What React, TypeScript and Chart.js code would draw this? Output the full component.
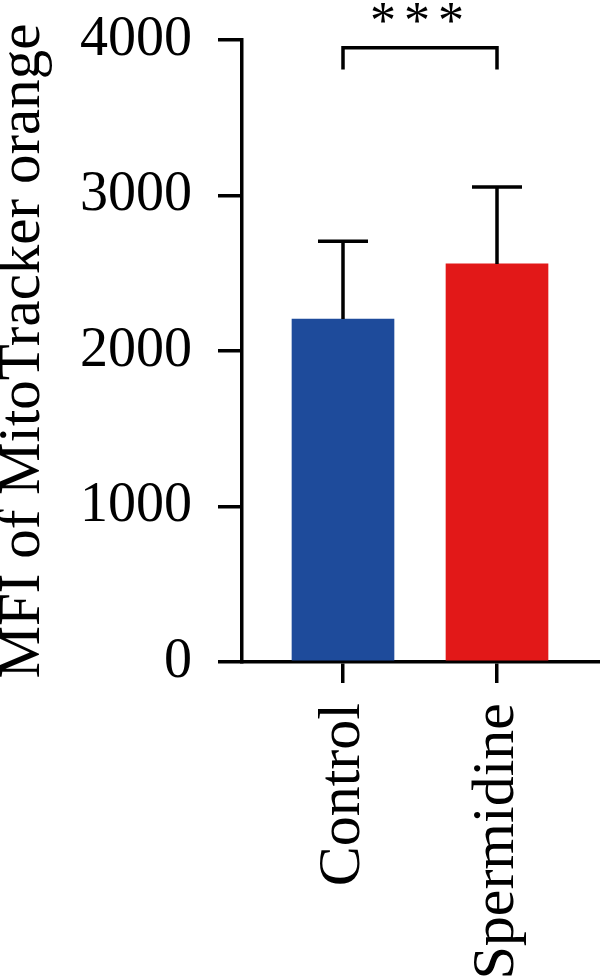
import React, { useEffect, useRef } from 'react';
import { Chart, registerables } from 'chart.js';

Chart.register(...registerables);

const categories = ['Control', 'Spermidine'];
const means = [2205, 2560];
const errors = [500, 495];
const barColors = ['#1E4B9B', '#E21818'];
const yTicks = [0, 1000, 2000, 3000, 4000];
const yTitle = 'MFI of MitoTracker orange';
const sigLabel = ['*', '*', '*'];
const sigBracket = [3950, 3810]; // top of bracket, bottom of its legs

const FONT = '"Liberation Serif", "Times New Roman", serif';

const errorBarPlugin = {
  id: 'errorBars',
  afterDatasetsDraw(chart: any) {
    const { ctx, scales } = chart;
    const x = scales.x;
    const y = scales.y;
    ctx.save();
    ctx.strokeStyle = '#000';
    ctx.lineWidth = 3.5;
    ctx.lineCap = 'butt';
    means.forEach((m, i) => {
      const px = x.getPixelForValue(i);
      const y0 = y.getPixelForValue(m);
      const y1 = y.getPixelForValue(m + errors[i]);
      ctx.beginPath();
      ctx.moveTo(px, y0);
      ctx.lineTo(px, y1);
      ctx.moveTo(px - 25, y1);
      ctx.lineTo(px + 25, y1);
      ctx.stroke();
    });
    const xl = x.getPixelForValue(0);
    const xr = x.getPixelForValue(1);
    const yb = y.getPixelForValue(sigBracket[0]);
    const yl = y.getPixelForValue(sigBracket[1]);
    ctx.beginPath();
    ctx.moveTo(xl, yl);
    ctx.lineTo(xl, yb);
    ctx.lineTo(xr, yb);
    ctx.lineTo(xr, yl);
    ctx.stroke();
    ctx.font = `52px ${FONT}`;
    ctx.textAlign = 'center';
    ctx.textBaseline = 'alphabetic';
    ctx.fillStyle = '#000';
    const cx = (xl + xr) / 2 - 3;
    sigLabel.forEach((s, i) => {
      ctx.fillText(s, cx + (i - 1) * 34, yb - 10);
    });
    ctx.restore();
  },
};

export default function App() {
  const ref = useRef<HTMLCanvasElement>(null);
  useEffect(() => {
    let chart: Chart | null = null;
    let cancelled = false;
    const make = () => {
      if (cancelled || !ref.current) return;
      chart = new Chart(ref.current, {
        type: 'bar',
        data: {
          datasets: [
            {
              data: means.map((m, i) => ({ x: i, y: m })) as any,
              backgroundColor: barColors,
              borderWidth: 0,
              barThickness: 102,
            },
          ],
        },
        options: {
          animation: false,
          responsive: false,
          layout: { padding: { top: 40, left: 0, right: 0, bottom: 0 } },
          plugins: { legend: { display: false }, tooltip: { enabled: false } },
          scales: {
            x: {
              type: 'linear',
              min: -0.6558,
              max: 1.6688,
              offset: false,
              grid: { offset: false, drawOnChartArea: false, tickLength: 21, lineWidth: 3.5, color: '#000' },
              border: { width: 3.5, color: '#000' },
              ticks: {
                font: { family: FONT, size: 60 },
                color: '#000',
                padding: 20,
                minRotation: 90,
                maxRotation: 90,
                autoSkip: false,
                callback: (v: any) => categories[v] ?? '',
              },
              afterBuildTicks: (s: any) => {
                s.ticks = categories.map((_, i) => ({ value: i }));
              },
              afterFit: (s: any) => {
                s.height = 315;
                s.paddingLeft = 0;
                s.paddingRight = 0;
              },
            } as any,
            y: {
              min: 0,
              max: 4000,
              grid: { drawOnChartArea: false, tickLength: 24, lineWidth: 3.5, color: '#000' },
              border: { width: 3.5, color: '#000' },
              ticks: {
                font: { family: FONT, size: 56 },
                color: '#000',
                padding: 26,
                callback: (v: any) => String(v),
              },
              title: {
                display: true,
                text: yTitle,
                font: { family: FONT, size: 59, lineHeight: 0.8 },
                color: '#000',
                padding: 0,
              },
              afterBuildTicks: (s: any) => {
                s.ticks = yTicks.map((v) => ({ value: v }));
              },
              afterFit: (s: any) => {
                s.width = 242;
                s.paddingTop = 0;
                s.paddingBottom = 0;
              },
            } as any,
          },
        },
        plugins: [errorBarPlugin],
      });
    };
    document.fonts.load(`56px "Liberation Serif"`).then(make, make);
    return () => {
      cancelled = true;
      if (chart) chart.destroy();
    };
  }, []);
  return (
    <div style={{ position: 'fixed', left: 0, top: 0, width: 600, height: 977, background: '#fff' }}>
      <canvas ref={ref} width={600} height={977} style={{ display: 'block' }} />
    </div>
  );
}
